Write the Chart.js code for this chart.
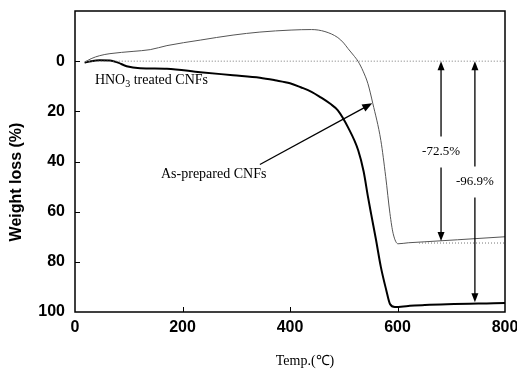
<!DOCTYPE html>
<html>
<head>
<meta charset="utf-8">
<script src="https://cdn.jsdelivr.net/npm/chart.js@4"></script>
<style>
    html, body { margin: 0; padding: 0; background: #fff; }
</style>
</head>
<body>
<canvas id="tgaChart" width="517" height="373"></canvas>
<script>
// As-prepared CNFs (thin grey curve)
const preparedTemp = [18, 30, 46, 65, 108, 140, 171, 233, 294, 344, 402, 440, 465, 489, 500, 508, 518, 527, 536, 545, 554, 569, 578, 586, 592, 601, 620, 651, 712, 800];
const preparedLoss = [0.4, -1, -2.2, -3, -3.9, -4.6, -6.2, -8.4, -10.4, -11.6, -12.4, -12.6, -11.8, -9.4, -7.2, -5, -2.4, 0.2, 4, 9, 16.8, 31.6, 46, 60.8, 68.8, 72.8, 72.4, 72, 71.2, 70];

// HNO3 treated CNFs (thick black curve)
const treatedTemp = [18, 30, 46, 65, 80, 96, 121, 171, 233, 294, 344, 372, 400, 420, 440, 457, 475, 489, 508, 527, 537, 545, 551, 560, 569, 579, 586, 595, 620, 651, 800];
const treatedLoss = [0.6, 0, -0.4, -0.3, 0.6, 2, 2.8, 3, 4.4, 5.6, 6.6, 7.6, 8.8, 10.4, 12.2, 14.4, 17, 19.6, 26.4, 35.6, 44, 54, 61, 71.2, 82, 91.2, 96.8, 98, 97.6, 97.2, 96.4];

// dotted reference levels
const zeroLineTemp = [20, 800];
const residueLineTemp = [640, 800];
const residueLevel = 72.5;

// loss arrows
const arrowTemps = [681, 744];
const arrowLosses = [72.5, 96.9];
const arrowLabels = ['-72.5%', '-96.9%'];
const arrowLabelLoss = [36, 48];

// tick values
const xTicks = [0, 200, 400, 600, 800];
const yTicks = [0, 20, 40, 60, 80, 100];

function toPoints(xs, ys) {
    return xs.map((x, i) => ({ x: x, y: ys[i] }));
}

function drawArrowHead(ctx, x1, y1, x2, y2, len, half) {
    const ang = Math.atan2(y2 - y1, x2 - x1);
    ctx.beginPath();
    ctx.moveTo(x2, y2);
    ctx.lineTo(x2 - len * Math.cos(ang) + half * Math.sin(ang), y2 - len * Math.sin(ang) - half * Math.cos(ang));
    ctx.lineTo(x2 - len * Math.cos(ang) - half * Math.sin(ang), y2 - len * Math.sin(ang) + half * Math.cos(ang));
    ctx.closePath();
    ctx.fill();
}

// drop the automatic label overflow padding so the plot box stays where the layout puts it
function fixScale(size, key) {
    return scale => {
        scale[key] = size;
        scale.paddingTop = 0;
        scale.paddingBottom = 0;
        scale.paddingLeft = 0;
        scale.paddingRight = 0;
    };
}

// frame, inner ticks, titles and annotations
const decorPlugin = {
    id: 'decor',
    afterDraw(chart) {
        const ctx = chart.ctx;
        const area = chart.chartArea;
        const xs = chart.scales.x;
        const ys = chart.scales.y;
        ctx.save();
        ctx.strokeStyle = '#000';
        ctx.fillStyle = '#000';

        // frame
        ctx.lineWidth = 1.5;
        ctx.strokeRect(area.left, area.top, area.right - area.left, area.bottom - area.top);

        // inward ticks
        ctx.lineWidth = 1;
        yTicks.slice(0, -1).forEach(v => {
            const py = Math.round(ys.getPixelForValue(v)) + 0.5;
            ctx.beginPath();
            ctx.moveTo(area.left, py);
            ctx.lineTo(area.left + 5, py);
            ctx.stroke();
        });
        xTicks.slice(1, -1).forEach(v => {
            const px = Math.round(xs.getPixelForValue(v)) + 0.5;
            ctx.beginPath();
            ctx.moveTo(px, area.bottom);
            ctx.lineTo(px, area.bottom - 5);
            ctx.stroke();
        });

        // axis titles
        ctx.font = '14px "Liberation Serif", serif';
        ctx.textAlign = 'center';
        ctx.textBaseline = 'middle';
        ctx.fillText('Temp.(℃)', 305, 361);

        ctx.save();
        ctx.translate(17, 182);
        ctx.rotate(-Math.PI / 2);
        ctx.font = 'bold 16px "Liberation Sans", Arial, sans-serif';
        ctx.fillText('Weight loss (%)', 0, 0);
        ctx.restore();

        // loss arrows with labels
        ctx.lineWidth = 1.3;
        arrowTemps.forEach((t, i) => {
            const px = xs.getPixelForValue(t);
            const yTop = ys.getPixelForValue(0);
            const yBot = ys.getPixelForValue(arrowLosses[i]) - 2;
            const yLab = ys.getPixelForValue(arrowLabelLoss[i]);
            ctx.beginPath();
            ctx.moveTo(px, yLab - 15);
            ctx.lineTo(px, yTop + 6);
            ctx.moveTo(px, yLab + 16);
            ctx.lineTo(px, yBot - 6);
            ctx.stroke();
            drawArrowHead(ctx, px, yLab, px, yTop, 9, 3.5);
            drawArrowHead(ctx, px, yLab, px, yBot, 9, 3.5);
            ctx.font = '13px "Liberation Serif", serif';
            ctx.fillText(arrowLabels[i], px, yLab);
        });

        // pointer arrow to the as-prepared curve
        const ax1 = xs.getPixelForValue(344), ay1 = ys.getPixelForValue(41.2);
        const ax2 = xs.getPixelForValue(553), ay2 = ys.getPixelForValue(16.8);
        ctx.lineWidth = 1.3;
        ctx.beginPath();
        ctx.moveTo(ax1, ay1);
        ctx.lineTo(ax2 - 6, ay2 + 3.3);
        ctx.stroke();
        drawArrowHead(ctx, ax1, ay1, ax2, ay2, 10, 4);

        // curve labels
        ctx.font = '14px "Liberation Serif", serif';
        ctx.textAlign = 'left';
        ctx.fillText('As-prepared CNFs', xs.getPixelForValue(160), ys.getPixelForValue(45.2));

        let lx = xs.getPixelForValue(37);
        const ly = ys.getPixelForValue(7.6);
        ctx.fillText('HNO', lx, ly);
        lx += ctx.measureText('HNO').width;
        ctx.font = '10px "Liberation Serif", serif';
        ctx.fillText('3', lx, ly + 4);
        lx += ctx.measureText('3').width;
        ctx.font = '14px "Liberation Serif", serif';
        ctx.fillText(' treated CNFs', lx, ly);

        ctx.restore();
    }
};

const chart = new Chart(document.getElementById('tgaChart').getContext('2d'), {
    type: 'line',
    data: {
        datasets: [
            {
                label: 'zero',
                data: toPoints(zeroLineTemp, [0, 0]),
                borderColor: '#777',
                borderWidth: 1,
                borderDash: [1, 2],
                pointRadius: 0,
            },
            {
                label: 'residue',
                data: toPoints(residueLineTemp, [residueLevel, residueLevel]),
                borderColor: '#777',
                borderWidth: 1,
                borderDash: [1, 2],
                pointRadius: 0,
            },
            {
                label: 'As-prepared CNFs',
                data: toPoints(preparedTemp, preparedLoss),
                borderColor: '#555',
                borderWidth: 1,
                pointRadius: 0,
                cubicInterpolationMode: 'monotone',
            },
            {
                label: 'HNO3 treated CNFs',
                data: toPoints(treatedTemp, treatedLoss),
                borderColor: '#000',
                borderWidth: 2,
                pointRadius: 0,
                cubicInterpolationMode: 'monotone',
            },
        ],
    },
    options: {
        responsive: false,
        animation: false,
        layout: { padding: { top: 11, right: 12, left: 0, bottom: 0 } },
        plugins: {
            legend: { display: false },
            tooltip: { enabled: false },
        },
        scales: {
            x: {
                type: 'linear',
                min: 0,
                max: 800,
                afterBuildTicks: scale => { scale.ticks = xTicks.map(v => ({ value: v })); },
                ticks: {
                    color: '#000',
                    padding: 6,
                    maxRotation: 0,
                    font: { family: '"Liberation Sans", Arial, sans-serif', size: 16, weight: 'bold' },
                },
                grid: { display: false, drawTicks: false },
                border: { display: false },
                afterFit: fixScale(61, 'height'),
            },
            y: {
                reverse: true,
                min: -20,
                max: 100,
                afterBuildTicks: scale => { scale.ticks = yTicks.map(v => ({ value: v })); },
                ticks: {
                    color: '#000',
                    padding: 10,
                    font: { family: '"Liberation Sans", Arial, sans-serif', size: 16, weight: 'bold' },
                },
                grid: { display: false, drawTicks: false },
                border: { display: false },
                afterFit: fixScale(75, 'width'),
            },
        },
    },
    plugins: [decorPlugin],
});
</script>
</body>
</html>
